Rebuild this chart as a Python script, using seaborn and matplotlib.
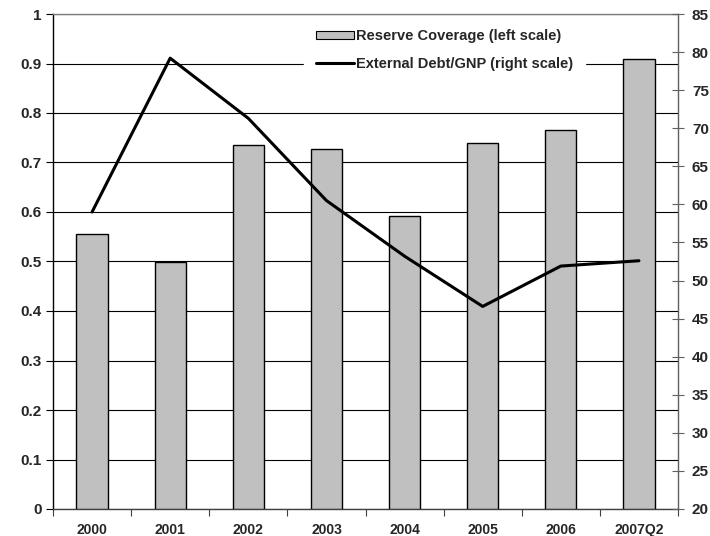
import matplotlib
matplotlib.use("Agg")
import matplotlib.pyplot as plt
from matplotlib.patches import Patch
from matplotlib.lines import Line2D
from matplotlib.ticker import MultipleLocator, FixedLocator, NullFormatter, FuncFormatter
import numpy as np
import pandas as pd
import seaborn as sns

# Data
periods = ["2000", "2001", "2002", "2003", "2004", "2005", "2006", "2007Q2"]
reserve_coverage = [0.556, 0.500, 0.736, 0.727, 0.592, 0.740, 0.766, 0.910]
debt_to_gnp = [59.0, 79.2, 71.3, 60.5, 53.2, 46.6, 51.9, 52.6]

bar_label = "Reserve Coverage (left scale)"
line_label = "External Debt/GNP (right scale)"

sns.set_theme(style="white")
plt.rcParams["font.family"] = ["Liberation Sans", "DejaVu Sans"]
plt.rcParams["font.weight"] = "bold"

fig = plt.figure(figsize=(7.10, 5.36), dpi=100)
ax = fig.add_axes([53 / 710, 1 - 509 / 536, 625 / 710, 495 / 536])

df = pd.DataFrame({"period": periods, "coverage": reserve_coverage,
                   "debt": debt_to_gnp, "pos": np.arange(len(periods))})

sns.barplot(data=df, x="period", y="coverage", order=periods, ax=ax,
            color="#C0C0C0", saturation=1, width=0.4,
            edgecolor="black", linewidth=1.0, zorder=3)
for p in ax.patches:
    p.set_facecolor("#C0C0C0")

ax.set_xlim(-0.5, len(periods) - 0.5)
ax.set_ylim(0, 1)
ax.yaxis.set_major_locator(MultipleLocator(0.1))
ax.yaxis.set_major_formatter(FuncFormatter(lambda v, _: f"{round(v, 1):g}"))
ax.grid(axis="y", color="black", linewidth=0.8, zorder=0)
ax.grid(axis="x", visible=False)
ax.set_axisbelow(True)
ax.set_xlabel("")
ax.set_ylabel("")

# category boundary ticks on the x axis
ax.xaxis.set_minor_locator(FixedLocator(np.arange(-0.5, len(periods), 1.0)))
ax.xaxis.set_minor_formatter(NullFormatter())
ax.tick_params(axis="x", which="major", length=0, pad=10, labelsize=10)
ax.tick_params(axis="x", which="minor", length=5, width=0.8, color="#404040",
               direction="out", bottom=True)
ax.tick_params(axis="y", which="major", length=5, width=0.8, color="black",
               direction="out", left=True, labelsize=11, pad=3)
for lbl in ax.get_xticklabels() + ax.get_yticklabels():
    lbl.set_fontweight("bold")

for side, col in [("left", "black"), ("bottom", "#404040"),
                  ("top", "#808080"), ("right", "#606060")]:
    ax.spines[side].set_color(col)
    ax.spines[side].set_linewidth(1.0)

# Right-scale line
ax2 = ax.twinx()
sns.lineplot(data=df, x="pos", y="debt", ax=ax2, color="black",
             linewidth=2.2, zorder=4)
ax2.set_ylim(20, 85)
ax2.yaxis.set_major_locator(MultipleLocator(5))
ax2.set_ylabel("")
ax2.set_xlabel("")
ax2.grid(False)
ax2.tick_params(axis="y", which="major", length=8, width=0.8, color="#606060",
                direction="inout", right=True, labelsize=11, pad=6)
for lbl in ax2.get_yticklabels():
    lbl.set_fontweight("bold")
for s in ax2.spines.values():
    s.set_visible(False)
ax.set_xlim(-0.5, len(periods) - 0.5)

handles = [Patch(facecolor="#C0C0C0", edgecolor="black", linewidth=0.8),
           Line2D([0], [0], color="black", linewidth=2.2)]
leg = ax2.legend(handles, [bar_label, line_label], loc="upper left",
                 bbox_to_anchor=(0.4016, 0.993), borderaxespad=0,
                 frameon=True, fancybox=False,
                 framealpha=1, edgecolor="white", facecolor="white",
                 borderpad=0.8, handlelength=2.65, handleheight=0.5,
                 handletextpad=0.15, labelspacing=0.95,
                 prop={"weight": "bold", "size": 10.5})
leg.set_zorder(10)

fig.savefig("out.png", dpi=100)
